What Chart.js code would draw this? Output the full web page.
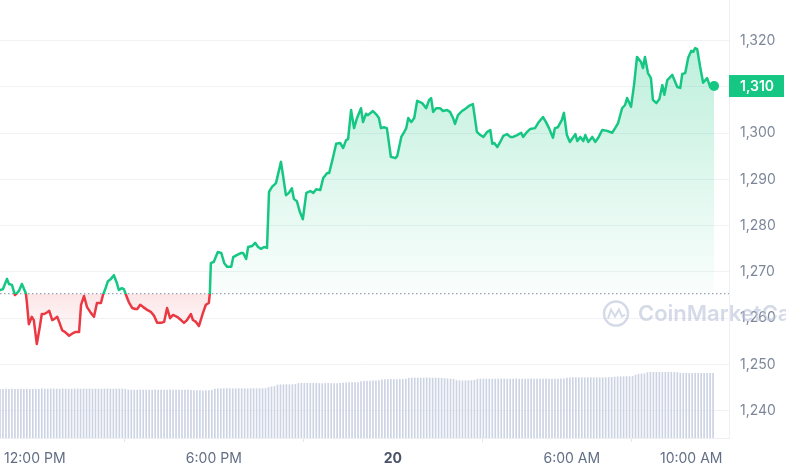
<!DOCTYPE html>
<html>
<head>
<meta charset="utf-8">
<script src="https://cdn.jsdelivr.net/npm/chart.js@4.4.1/dist/chart.umd.min.js"></script>
<style>
  html, body { margin: 0; padding: 0; background: #fff; }
  #wrap { width: 786px; height: 470px; }
</style>
</head>
<body>
<div id="wrap"><canvas id="chart" width="786" height="470"></canvas></div>
<script>
// Minutos desde las 10:50 AM del día 19
const times = [
  0, 6, 14, 18, 24, 30, 34, 38, 44, 52, 54, 58, 64, 68, 74, 80, 84, 89, 95, 99,
  105, 109, 115, 119, 125, 131, 139, 147, 151, 159, 163, 169, 175, 183, 189, 195, 203, 207, 213, 217,
  223, 229, 235, 239, 245, 249, 255, 259, 266, 272, 276, 282,
  288, 296, 304, 310, 316, 324, 330, 336, 342, 348, 356, 364, 370, 376, 384, 388, 394, 400, 408, 414,
  420, 422, 424, 430, 438, 445, 451, 457, 465, 469, 477, 485, 489, 495, 499, 507, 513, 519, 525, 531,
  537, 541, 547, 555, 565, 569, 575, 581, 587, 591, 597, 603, 609, 616, 624, 630, 636, 644, 650, 658,
  662, 670, 676, 684, 690, 696, 700, 706, 712, 718, 726, 730, 736, 740, 750, 758, 762, 766, 772, 778,
  786, 795, 799, 807, 813, 817, 821, 827, 833, 839, 849, 857, 863,
  867, 871, 877, 885, 891, 899, 905, 911, 915, 921, 929, 935, 943, 951, 955, 959, 966, 972, 980, 986,
  990, 994, 1000, 1006, 1012, 1020, 1026, 1032, 1040, 1048, 1052, 1060, 1066, 1076, 1082, 1092, 1098, 1104, 1112, 1116,
  1122, 1130, 1134, 1140, 1146,
  1157, 1161, 1167, 1173, 1177, 1183, 1191, 1197, 1203, 1211, 1221, 1231, 1237, 1243, 1251, 1257, 1261, 1269, 1275, 1281,
  1289, 1293, 1297, 1303, 1309, 1313, 1320, 1326, 1332, 1336, 1342, 1352, 1362, 1368, 1372, 1378, 1384, 1390, 1394, 1398,
  1402, 1408, 1414, 1422, 1428, 1436
];

const prices = [
  1266.1, 1266.3, 1268.5, 1267.4, 1267.2, 1265.0, 1265.4, 1265.9, 1267.4, 1265.4, 1263.5, 1258.7, 1260.3, 1259.6, 1254.4, 1258.1, 1260.9, 1260.9, 1261.3, 1261.6,
  1259.6, 1259.8, 1260.3, 1259.2, 1257.4, 1257.0, 1256.2, 1256.8, 1257.0, 1257.0, 1262.9, 1264.8, 1262.4, 1261.1, 1260.3, 1263.3, 1263.3, 1265.0, 1266.7, 1268.0,
  1268.5, 1269.3, 1267.6, 1266.1, 1266.5, 1266.3, 1264.6, 1263.5, 1262.2, 1262.0, 1262.0, 1262.9,
  1262.4, 1261.8, 1261.3, 1260.5, 1259.0, 1259.0, 1259.2, 1262.2, 1260.0, 1260.7, 1260.3, 1259.6, 1259.0, 1259.6, 1260.9, 1259.6, 1259.2, 1258.3, 1261.1, 1262.9,
  1263.3, 1265.4, 1271.9, 1272.2, 1274.3, 1274.1, 1271.9, 1271.1, 1271.1, 1273.2, 1273.7, 1274.1, 1274.1, 1272.8, 1275.4, 1275.6, 1276.3, 1275.4, 1275.0, 1275.4,
  1275.2, 1287.3, 1288.4, 1289.2, 1293.8, 1291.0, 1286.6, 1287.1, 1288.1, 1285.8, 1285.3, 1283.0, 1281.4, 1287.1, 1287.5, 1287.1, 1287.9, 1287.7, 1290.3, 1291.4,
  1291.4, 1294.9, 1297.7, 1297.9, 1296.8, 1298.5, 1298.7, 1305.0, 1301.1, 1303.3, 1305.4, 1302.4, 1304.2, 1303.9, 1304.8, 1303.9, 1303.3, 1301.1, 1301.3, 1301.1,
  1294.9, 1294.6, 1295.1, 1299.2, 1300.3, 1301.1, 1303.3, 1302.4, 1303.3, 1307.0, 1306.5, 1305.4, 1307.2,
  1307.6, 1304.6, 1305.4, 1305.4, 1304.8, 1305.0, 1304.6, 1303.3, 1302.0, 1303.9, 1304.8, 1305.2, 1305.9, 1306.3, 1303.3, 1300.3, 1299.6, 1299.2, 1300.3, 1300.7,
  1297.7, 1297.9, 1297.0, 1298.1, 1299.4, 1299.8, 1299.2, 1299.2, 1299.6, 1300.1, 1299.2, 1300.3, 1300.9, 1301.1, 1302.2, 1303.5, 1302.4, 1301.1, 1299.0, 1301.1,
  1301.3, 1302.9, 1304.4, 1299.6, 1298.1,
  1299.8, 1298.3, 1299.2, 1298.3, 1299.6, 1298.1, 1299.2, 1298.1, 1299.0, 1300.7, 1300.5, 1300.1, 1301.1, 1302.2, 1305.4, 1306.1, 1307.6, 1305.7, 1310.4, 1316.5,
  1315.4, 1314.1, 1316.5, 1313.0, 1311.9, 1307.2, 1306.5, 1307.4, 1310.4, 1308.3, 1311.5, 1312.6, 1310.0, 1309.8, 1312.8, 1313.0, 1316.3, 1317.8, 1317.6, 1318.4,
  1318.2, 1314.3, 1310.9, 1311.9, 1310.0, 1310.2
];

// Volumen 24h, una barra cada 6 minutos
const volStep = 6;
const volume = [
  487, 486, 488, 487, 489, 487, 486, 488, 487, 488, 486, 487, 488, 487, 493,
  490, 489, 491, 490, 490, 489, 491, 490, 489, 490, 491, 490, 489, 490, 490, 491, 489, 490, 490, 489, 490, 491, 490, 489, 490, 490, 489, 488,
  481, 480, 480, 479, 481, 480, 480, 479, 480, 481, 480, 479, 480, 480, 481, 480, 479, 480, 480, 479, 478, 477,
  474, 473, 473, 472, 473, 474, 476,
  490, 492, 493, 493, 494, 493, 492, 493, 494, 493, 493, 492, 493, 494, 493, 493, 494, 495,
  505, 512, 516,
  530, 532, 533, 534, 533, 534, 536,
  545, 547, 547, 548, 547, 546, 546,
  545, 544, 545, 546, 545, 544, 545, 546, 548,
  552, 553, 554, 553, 555,
  565, 568, 570, 570, 571, 572, 575,
  582, 585, 585, 586, 585, 584, 585, 586, 590,
  598, 600, 601, 600, 599, 600, 601, 600, 599, 600, 600, 598, 595,
  592, 590, 588,
  575, 573, 572, 573, 573, 574, 578,
  588, 590, 590, 591, 590, 589, 590, 590, 591, 590, 589, 590, 590, 591, 590, 589, 590, 590, 591, 590, 590, 589, 590, 591, 590, 590, 589, 590, 591, 592,
  600, 602, 603, 603, 604, 603, 602, 603, 604, 603, 603, 602, 603, 604, 605, 606,
  610, 612, 613, 613, 614, 614, 616,
  630, 638, 641, 643,
  655, 657, 657, 658, 657, 656, 657, 658, 657, 656, 655,
  648, 647, 647, 646, 647, 648, 647, 646, 647, 647, 646, 647
];

const openPrice = 1265.3;
const yTicks = [1240, 1250, 1260, 1270, 1280, 1290, 1300, 1310, 1320];
const xTickValues = [70, 430, 790, 1150, 1390];
const xTickLabels = ["12:00 PM", "6:00 PM", "20", "6:00 AM", "10:00 AM"];

const GREEN = "#16c784";
const RED = "#ea3943";
const FONT = "Inter, 'Noto Sans', sans-serif";
const X_MAX = 1466;

// Color partido en la línea de apertura
function lineColor(c) {
  const chart = c.chart;
  const area = chart.chartArea;
  if (!area) return GREEN;
  const yb = chart.scales.y.getPixelForValue(openPrice);
  const f = Math.min(1, Math.max(0, (yb - area.top) / (area.bottom - area.top)));
  const g = chart.ctx.createLinearGradient(0, area.top, 0, area.bottom);
  g.addColorStop(0, GREEN);
  g.addColorStop(f, GREEN);
  g.addColorStop(f, RED);
  g.addColorStop(1, RED);
  return g;
}

function fillColor(c) {
  const chart = c.chart;
  const area = chart.chartArea;
  if (!area) return "rgba(22,199,132,0.15)";
  const ys = chart.scales.y;
  const h = area.bottom - area.top;
  const fTop = Math.max(0, (ys.getPixelForValue(Math.max(...prices)) - area.top) / h);
  const f = (ys.getPixelForValue(openPrice) - area.top) / h;
  const fLow = Math.min(1, (ys.getPixelForValue(Math.min(...prices)) - area.top) / h);
  const g = chart.ctx.createLinearGradient(0, area.top, 0, area.bottom);
  g.addColorStop(0, "rgba(22,199,132,0.30)");
  g.addColorStop(fTop, "rgba(22,199,132,0.28)");
  g.addColorStop(f, "rgba(22,199,132,0.02)");
  g.addColorStop(f, "rgba(234,57,67,0.13)");
  g.addColorStop(fLow, "rgba(234,57,67,0.0)");
  g.addColorStop(1, "rgba(234,57,67,0.0)");
  return g;
}

// Etiqueta de precio y marca de agua
const extras = {
  id: "extras",
  afterDraw(chart) {
    const { ctx, chartArea, scales } = chart;
    const last = prices[prices.length - 1];
    const y = scales.y.getPixelForValue(last);

    ctx.save();
    ctx.fillStyle = GREEN;
    ctx.fillRect(chartArea.right, y - 11, 55, 22);
    ctx.fillStyle = "#fff";
    ctx.font = "600 14px " + FONT;
    ctx.textBaseline = "middle";
    ctx.textAlign = "left";
    ctx.fillText(Math.round(last).toLocaleString("en-US"), chartArea.right + 11, y + 1);

    // marca de agua
    const wy = scales.y.getPixelForValue(1261);
    ctx.globalAlpha = 0.6;
    ctx.strokeStyle = "#b9c1d9";
    ctx.lineWidth = 2.5;
    ctx.beginPath();
    ctx.arc(616, wy, 12, 0, Math.PI * 2);
    ctx.stroke();
    ctx.beginPath();
    ctx.lineWidth = 2;
    ctx.moveTo(608, wy + 5);
    ctx.lineTo(611, wy - 4);
    ctx.lineTo(615, wy + 3);
    ctx.lineTo(619, wy - 4);
    ctx.lineTo(622, wy + 3);
    ctx.lineTo(625, wy + 1);
    ctx.stroke();
    ctx.fillStyle = "#b9c1d9";
    ctx.font = "600 22px " + FONT;
    ctx.fillText("CoinMarketCap", 638, wy + 1);
    ctx.restore();
  }
};

function sinPadding(s) {
  s.paddingTop = 0;
  s.paddingBottom = 0;
  s.paddingLeft = 0;
  s.paddingRight = 0;
}

new Chart(document.getElementById("chart").getContext("2d"), {
  type: "line",
  data: {
    datasets: [
      {
        label: "Precio",
        data: times.map((t, i) => ({ x: t, y: prices[i] })),
        borderColor: lineColor,
        backgroundColor: fillColor,
        fill: { target: { value: openPrice } },
        borderWidth: 2.5,
        tension: 0,
        borderJoinStyle: "round",
        borderCapStyle: "round",
        pointRadius: (c) => (c.dataIndex === prices.length - 1 ? 5 : 0),
        pointBackgroundColor: GREEN,
        pointBorderWidth: 0,
        order: 0,
      },
      {
        label: "Apertura",
        data: [{ x: 0, y: openPrice }, { x: X_MAX, y: openPrice }],
        borderColor: "#9aa3b5",
        borderWidth: 1.2,
        borderDash: [1.5, 2.5],
        pointRadius: 0,
        fill: false,
        order: 1,
      },
      {
        type: "bar",
        label: "Volumen",
        data: volume.map((v, i) => ({ x: i * volStep, y: v })),
        yAxisID: "yv",
        backgroundColor: "#ccd3e3",
        barThickness: 1,
        order: 2,
      },
    ],
  },
  options: {
    responsive: false,
    animation: false,
    layout: { padding: 0, autoPadding: false },
    plugins: {
      legend: { display: false },
      tooltip: { enabled: false },
    },
    scales: {
      x: {
        type: "linear",
        min: 0,
        max: X_MAX,
        offset: false,
        afterBuildTicks: (s) => { s.ticks = xTickValues.map((v) => ({ value: v })); },
        afterFit: (s) => { s.height = 32; sinPadding(s); },
        grid: { drawOnChartArea: false, tickLength: 4, color: "#e3e6ec" },
        border: { color: "#eef0f4" },
        ticks: {
          autoSkip: false,
          maxRotation: 0,
          padding: 8,
          callback: (v) => xTickLabels[xTickValues.indexOf(v)],
          color: (c) => (c.tick && c.tick.value === 790 ? "#4a5468" : "#616e85"),
          font: (c) => ({ family: FONT, size: 14, weight: c.tick && c.tick.value === 790 ? "bold" : "normal" }),
        },
      },
      y: {
        position: "right",
        min: 1234.1,
        max: 1328.8,
        afterBuildTicks: (s) => { s.ticks = yTicks.map((v) => ({ value: v })); },
        afterFit: (s) => { s.width = 57; sinPadding(s); },
        grid: { color: "#f0f2f5", drawTicks: false },
        border: { display: true, color: "#eef0f4" },
        ticks: {
          padding: 11,
          color: "#7d879a",
          font: { family: FONT, size: 14 },
          callback: (v) => v.toLocaleString("en-US"),
        },
      },
      yv: {
        display: false,
        min: 0,
        max: 4380,
      },
    },
  },
  plugins: [extras],
});
</script>
</body>
</html>
